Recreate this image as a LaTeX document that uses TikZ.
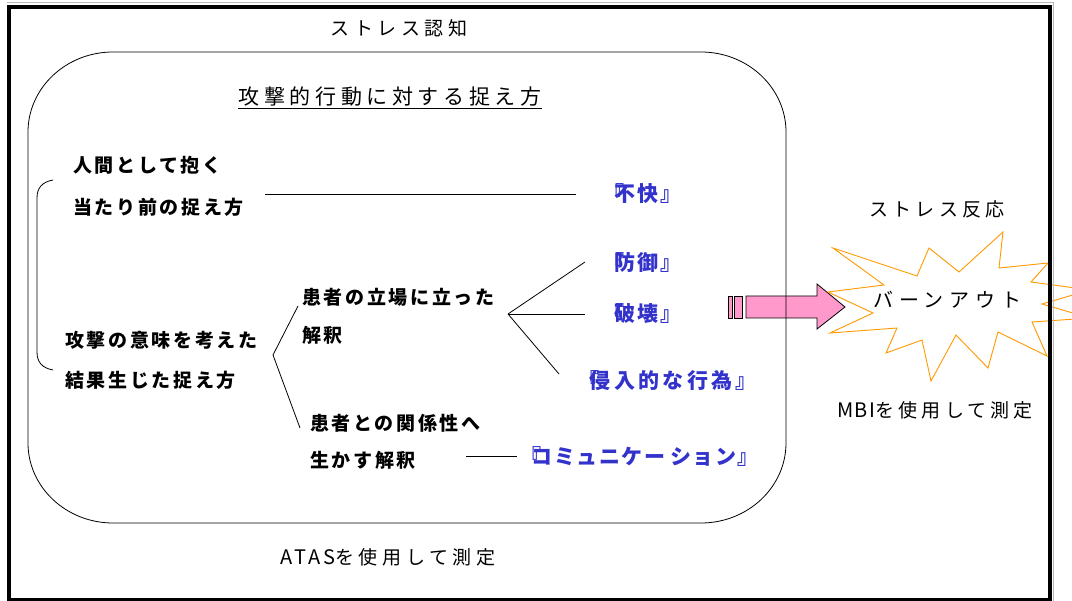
\documentclass[tikz,border=0pt]{standalone}
\usepackage{fontspec}
\setmainfont{Noto Sans CJK JP}
\definecolor{tblue}{HTML}{3333CC}
\definecolor{apink}{HTML}{FF99CC}
\definecolor{borange}{HTML}{FF9900}
\begin{document}
\begin{tikzpicture}[x=1pt,y=-1pt,
  lbl/.style={anchor=west,inner sep=0pt,font=\bfseries\fontsize{19}{22}\selectfont\addfontfeature{LetterSpace=14}},
  blu/.style={anchor=west,inner sep=0pt,text=tblue,font=\bfseries\fontsize{21}{24}\selectfont\addfontfeature{LetterSpace=10}},
  reg/.style={inner sep=0pt,font=\fontsize{19}{22}\selectfont\addfontfeature{LetterSpace=25}},
  conn/.style={draw=black,line width=0.8pt}]
\useasboundingbox (0,0) rectangle (1072,601);
\fill[white] (0,0) rectangle (1072,601);

% pink arrow
\draw[fill=apink,line width=0.8pt] (728,296) rectangle (732,318);
\draw[fill=apink,line width=0.8pt] (734,296) rectangle (742,318);
\draw[fill=apink,line width=0.8pt,line join=miter] (746,296) -- (817,296) -- (817,284) -- (845,307) -- (817,329) -- (817,318) -- (746,318) -- cycle;

% rounded frame
\draw[line width=0.8pt] (113,52) -- (701,52) .. controls (748,52) and (786,88) .. (786,132)
  -- (786,443) .. controls (786,487) and (748,523) .. (701,523)
  -- (113,523) .. controls (66,523) and (28,487) .. (28,443)
  -- (28,132) .. controls (28,88) and (66,52) .. (113,52) -- cycle;

% burst
\draw[borange,fill=white,line width=0.9pt,line join=miter] (833,248) -- (917,276) -- (929,248) -- (959,272) -- (1003,232) -- (999,268) -- (1048,263) -- (1031,282) -- (1090,290) -- (1042,304) -- (1090,318) -- (1032,322) -- (1047,356) -- (998,332) -- (988,368) -- (956,335) -- (931,381) -- (922,340) -- (886,353) -- (897,328) -- (830,333) -- (873,313) -- (828,292) -- (884,285) -- cycle;

% outer frame
\draw[gray!55,line width=1pt] (7,3) -- (1053.5,3) -- (1053.5,601);
\draw[line width=3.5pt] (9,7) rectangle (1050,599.5);

% texts
\node[reg,font=\fontsize{19}{22}\selectfont\addfontfeature{LetterSpace=24}] (ninchi) at (399,28) {ストレス認知};
\node[reg,font=\fontsize{21}{24}\selectfont\addfontfeature{LetterSpace=22}] (title) at (390,97) {攻撃的行動に対する捉え方};
\draw[line width=1pt] ([yshift=-1.5pt]title.south west) -- ([yshift=-1.5pt]title.south east);

\node[lbl] (a1) at (73,165) {人間として抱く};
\node[lbl] (a2) at (73,207) {当たり前の捉え方};
\node[lbl] (b1) at (65,340) {攻撃の意味を考えた};
\node[lbl] (b2) at (65,380) {結果生じた捉え方};
\node[lbl] (c1) at (302,297) {患者の立場に立った};
\node[lbl] (c2) at (302,335) {解釈};
\node[lbl] (d1) at (310,423) {患者との関係性へ};
\node[lbl] (d2) at (310,460) {生かす解釈};

\node[blu] (fukai) at (603,194) {『\kern-0.45em 不快』};
\node[blu] (bougyo) at (603,263) {『\kern-0.45em 防御』};
\node[blu] (hakai) at (603,314) {『\kern-0.45em 破壊』};
\node[blu,font=\bfseries\fontsize{21}{24}\selectfont\addfontfeature{LetterSpace=16}] (shinnyu) at (578,381) {『\kern-0.45em 侵入的な行為』};
\node[blu,font=\bfseries\fontsize{21}{24}\selectfont\addfontfeature{LetterSpace=7}] (comm) at (520,457) {『\kern-0.45em コミュニケー\kern5pt ション』};

\node[reg,font=\fontsize{19}{22}\selectfont\addfontfeature{LetterSpace=22}] (hanno) at (937,209) {ストレス反応};
\node[reg,font=\fontsize{20}{24}\selectfont\addfontfeature{LetterSpace=30}] (burn) at (947,300) {バー\kern4pt ンアウト};
\node[reg,font=\fontsize{19}{22}\selectfont\addfontfeature{LetterSpace=22}] (mbi) at (935,410) {{\fontsize{20}{24}\selectfont\addfontfeature{LetterSpace=8}MBI}を使用して測定};
\node[reg,font=\fontsize{19}{22}\selectfont\addfontfeature{LetterSpace=24}] (atas) at (388,557) {{\fontsize{20}{24}\selectfont\addfontfeature{LetterSpace=14}ATAS}を使用して測定};

% bracket
\draw[line width=0.8pt] (53,180) .. controls (42,182) and (37,188) .. (37,198) -- (37,352) .. controls (37,362) and (42,368) .. (53,370);

% connectors
\coordinate (l1s) at (265,194);
\coordinate (l1e) at (576,194);
\draw[conn] (l1s) -- (l1e);

\coordinate (br) at (273,355);
\coordinate (brU) at (298,306);
\coordinate (brD) at (300,428);
\draw[conn] (brU) -- (br) -- (brD);

\coordinate (fan) at (508,314);
\coordinate (fan1) at (585,262);
\coordinate (fan2) at (585,314);
\coordinate (fan3) at (559,374);
\draw[conn] (fan) -- (fan1);
\draw[conn] (fan) -- (fan2);
\draw[conn] (fan) -- (fan3);

\coordinate (l2s) at (466,456);
\coordinate (l2e) at (517,456);
\draw[conn] (l2s) -- (l2e);
\end{tikzpicture}
\end{document}
